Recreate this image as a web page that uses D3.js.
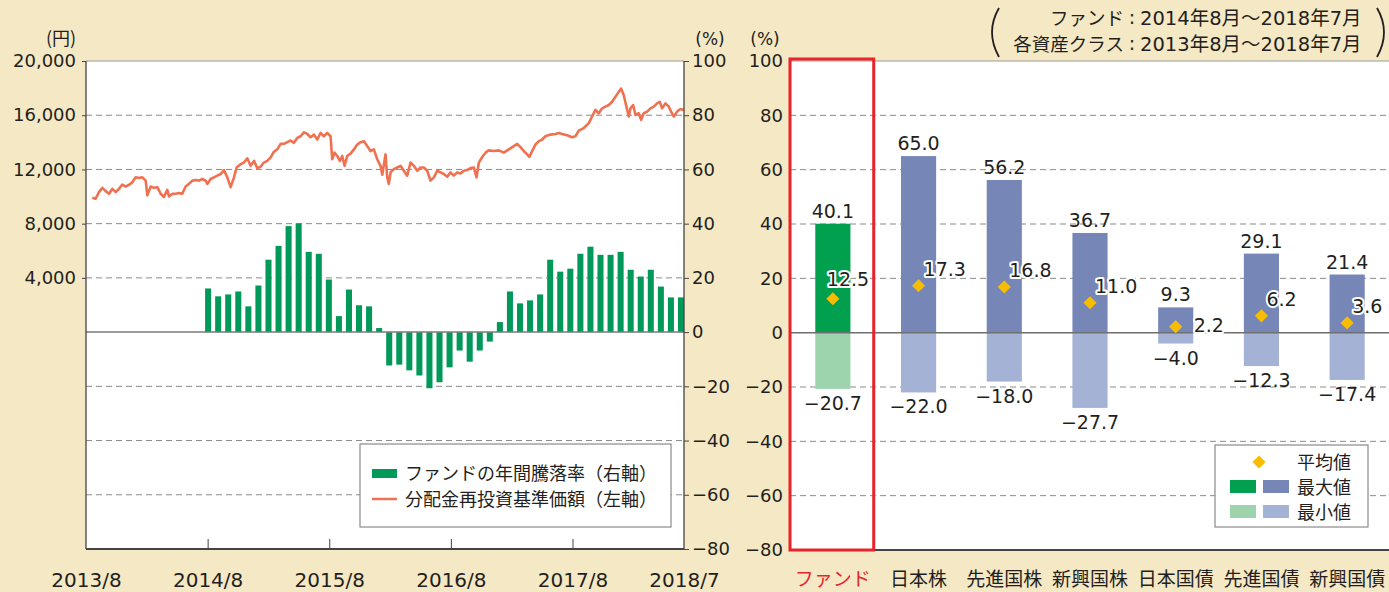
<!DOCTYPE html>
<html>
<head>
<meta charset="utf-8">
<script src="https://cdn.jsdelivr.net/npm/d3@7"></script>
<style>
  body { margin: 0; background: #f5e8c4; }
  text { font-family: "DejaVu Sans", "Noto Sans CJK JP", sans-serif; fill: #231f20; }
  .jp { font-family: "Noto Sans CJK JP", sans-serif; }
</style>
</head>
<body>
<script>
// ---- data ----
// price line: months since 2013/8 and NAV (yen)
var priceMonths = [0.62,0.95,1.28,1.61,1.94,2.27,2.60,2.93,3.25,3.58,3.91,4.24,4.57,4.90,5.23,5.56,5.89,6.05,6.38,6.71,
  7.04,7.37,7.69,8.02,8.19,8.52,8.85,9.17,9.50,9.83,10.16,10.49,10.82,11.15,11.47,11.80,11.97,12.30,12.62,12.95,
  13.28,13.61,13.94,14.27,14.60,14.86,15.25,15.58,15.91,16.24,16.57,16.90,17.23,17.55,17.88,18.21,18.54,18.87,19.20,19.53,
  19.86,20.18,20.51,20.84,21.17,21.50,21.83,22.16,22.49,22.82,23.14,23.47,23.80,24.13,24.29,24.52,24.79,25.05,25.28,25.51,
  25.77,26.10,26.43,26.76,27.09,27.42,27.75,28.07,28.40,28.73,29.06,29.23,29.55,29.72,29.88,30.05,30.37,30.70,31.03,31.36,
  31.69,32.02,32.35,32.68,33.01,33.33,33.66,33.99,34.32,34.65,34.98,35.31,35.64,35.96,36.29,36.62,36.95,37.28,37.61,37.94,
  38.27,38.53,38.76,39.09,39.42,39.74,40.24,40.73,41.22,41.72,42.21,42.54,42.87,43.19,43.52,43.75,44.02,44.35,44.68,45.00,
  45.33,45.83,46.32,46.65,46.98,47.47,47.96,48.29,48.62,49.11,49.61,49.93,50.26,50.59,50.92,51.25,51.58,51.91,52.24,52.56,
  52.79,53.06,53.32,53.55,53.72,53.98,54.21,54.54,54.77,55.03,55.36,55.69,56.02,56.35,56.61,56.84,57.17,57.50,57.73,58.00,
  58.32,58.65,58.98];
var priceValues = [9916,9843,10328,10643,10400,10207,10570,10328,10570,10885,10740,10861,11055,11419,11370,11419,11176,10085,10740,10643,
  10691,10207,9964,10497,10013,10207,10207,10255,10207,10740,10934,11176,11225,11176,11297,11176,10934,11297,11419,11540,
  11661,11952,11419,10691,11419,12146,12388,12509,12824,12267,12631,12097,12194,12509,12631,12873,13309,13479,13891,13891,
  14012,14134,13964,14327,14449,14740,14618,14376,14570,14206,14691,14449,14691,14449,12752,13237,12994,12631,12994,12267,
  12994,13164,13479,13843,14012,14085,13721,13358,13479,12752,12267,11612,13115,11418,10934,11782,12025,12146,12267,11903,
  11540,12509,12267,11903,12146,12146,11903,11176,11418,11903,11782,11661,11467,11782,11540,11782,11709,11903,11952,12097,
  12146,11418,12509,12921,13237,13406,13358,13406,13237,13479,13721,13891,13649,13358,13115,12921,13358,13843,14085,14206,
  14449,14570,14618,14691,14618,14521,14376,14449,14861,15055,15418,15903,16388,16145,16509,16630,16751,16994,17357,17721,
  17963,17479,16630,15903,16509,16751,16024,16145,15661,16145,16267,16509,16630,16873,16994,16509,16873,16630,16267,15903,
  16267,16461,16388];

// annual return (%) 2014/8 .. 2018/7
var returnValues = [16.1,13.2,13.9,15.0,9.5,17.2,26.7,31.8,39.1,40.1,29.6,28.9,19.4,5.9,15.7,9.9,9.5,1.5,
  -12.3,-12.0,-14.1,-16.0,-20.7,-18.5,-13.0,-6.8,-10.9,-6.8,-3.5,
  3.7,15.0,10.6,11.7,13.9,26.7,22.3,23.4,28.9,31.5,28.5,28.5,29.6,23.0,20.5,23.0,16.8,12.8,12.8];

var dateTickMonths = [0, 12, 24, 36, 48, 59];
var dateTickLabels = ["2013/8", "2014/8", "2015/8", "2016/8", "2017/8", "2018/7"];
var yenTicks = [4000, 8000, 12000, 16000, 20000];
var pctTicks = [-80, -60, -40, -20, 0, 20, 40, 60, 80, 100];

var classes = ["ファンド", "日本株", "先進国株", "新興国株", "日本国債", "先進国債", "新興国債"];
var maxValues = [40.1, 65.0, 56.2, 36.7, 9.3, 29.1, 21.4];
var minValues = [-20.7, -22.0, -18.0, -27.7, -4.0, -12.3, -17.4];
var avgValues = [12.5, 17.3, 16.8, 11.0, 2.2, 6.2, 3.6];

// ---- setup ----
var svgWidth = 1389, svgHeight = 592;
var svg = d3.select("body").append("svg")
  .attr("width", svgWidth).attr("height", svgHeight);
svg.append("rect").attr("width", svgWidth).attr("height", svgHeight).attr("fill", "#f5e8c4");

var green = "#00995a", greenMax = "#00a04e", greenMin = "#9dd3ad";
var blueMax = "#7686b7", blueMin = "#a4b2d5", gold = "#f8bd00", red = "#e8232b";
var gridColor = "#8a8a8a";

// ================= left chart =================
var L = { left: 86, right: 684, top: 61, bottom: 549 };
var xMonth = d3.scaleLinear().domain([0, 59]).range([L.left, L.right]);
var yPct = d3.scaleLinear().domain([-80, 100]).range([L.bottom, L.top]);
var yYen = d3.scaleLinear().domain([-16000, 20000]).range([L.bottom, L.top]);

var left = svg.append("g");
left.append("rect").attr("x", L.left).attr("y", L.top)
  .attr("width", L.right - L.left).attr("height", L.bottom - L.top).attr("fill", "#fff");

// dashed grid
left.selectAll(".grid").data(pctTicks.filter(function(v){ return v !== 0 && v !== 100 && v !== -80; }))
  .enter().append("line")
  .attr("x1", L.left).attr("x2", L.right)
  .attr("y1", function(d){ return yPct(d); }).attr("y2", function(d){ return yPct(d); })
  .attr("stroke", gridColor).attr("stroke-dasharray", "6,4");

// bars
var xBar = d3.scaleBand().domain(d3.range(returnValues.length))
  .range([xMonth(11.75), xMonth(59)]).paddingInner(0.4);
left.selectAll(".bar").data(returnValues).enter().append("rect")
  .attr("x", function(d, i){ return xBar(i); })
  .attr("width", xBar.bandwidth())
  .attr("y", function(d){ return yPct(Math.max(d, 0)); })
  .attr("height", function(d){ return Math.abs(yPct(d) - yPct(0)); })
  .attr("fill", green);

// zero line
left.append("line").attr("x1", L.left).attr("x2", L.right)
  .attr("y1", yPct(0)).attr("y2", yPct(0)).attr("stroke", "#7a7a7a").attr("stroke-width", 1.5);

// price line
var line = d3.line().x(function(d){ return xMonth(d[0]); }).y(function(d){ return yYen(d[1]); });
left.append("path").datum(d3.zip(priceMonths, priceValues))
  .attr("d", line).attr("fill", "none").attr("stroke", "#f07150")
  .attr("stroke-width", 2.6).attr("stroke-linejoin", "round");

// frame
left.append("line").attr("x1", L.left).attr("x2", L.right).attr("y1", L.top).attr("y2", L.top)
  .attr("stroke", "#9a9a9a").attr("stroke-width", 1.2);

// axes
var axisL = d3.axisLeft(yYen).tickValues(yenTicks).tickSize(4).tickPadding(6)
  .tickFormat(d3.format(","));
var gL = left.append("g").attr("transform", "translate(" + L.left + ",0)").call(axisL);
var axisR = d3.axisRight(yPct).tickValues(pctTicks).tickSize(5).tickPadding(3);
var gR = left.append("g").attr("transform", "translate(" + L.right + ",0)").call(axisR);
var axisB = d3.axisBottom(xMonth).tickValues(dateTickMonths).tickSize(-10).tickPadding(24)
  .tickFormat(function(d, i){ return dateTickLabels[i]; });
var gB = left.append("g").attr("transform", "translate(0," + L.bottom + ")").call(axisB);
gB.selectAll(".tick line").filter(function(d){ return d === 0 || d === 59; }).remove();

[gL, gR, gB].forEach(function(g){
  g.select(".domain").attr("stroke", "#444").attr("stroke-width", 1.3);
  g.selectAll(".tick line").attr("stroke", "#444");
  g.selectAll("text").attr("font-size", 18).attr("fill", "#231f20")
    .style("font-family", "'DejaVu Sans', sans-serif");
});
gB.selectAll("text").attr("font-size", 20);
gL.select(".domain").attr("d", "M0," + L.top + "V" + L.bottom);
gR.select(".domain").attr("d", "M0," + L.top + "V" + L.bottom);
gB.select(".domain").attr("d", "M" + L.left + ",0H" + L.right).attr("stroke-width", 1.8);

svg.append("text").attr("class", "jp").attr("x", 61).attr("y", 45)
  .attr("text-anchor", "middle").attr("font-size", 18).text("(円)");
svg.append("text").attr("x", 710).attr("y", 45)
  .attr("text-anchor", "middle").attr("font-size", 17).text("(%)");

// left legend
var lg = svg.append("g");
lg.append("rect").attr("x", 360).attr("y", 444).attr("width", 311).attr("height", 83)
  .attr("fill", "#fff").attr("stroke", "#8a8a8a").attr("stroke-width", 1.2);
lg.append("rect").attr("x", 372).attr("y", 469).attr("width", 25).attr("height", 9).attr("fill", green);
lg.append("line").attr("x1", 372).attr("x2", 397).attr("y1", 499).attr("y2", 499)
  .attr("stroke", "#f07150").attr("stroke-width", 2.5);
lg.append("text").attr("class", "jp").attr("x", 405).attr("y", 480).attr("font-size", 18)
  .text("ファンドの年間騰落率（右軸）");
lg.append("text").attr("class", "jp").attr("x", 405).attr("y", 506).attr("font-size", 18)
  .text("分配金再投資基準価額（左軸）");

// ================= right chart =================
var R = { left: 790, right: 1389, top: 61, bottom: 550 };
var xCat = d3.scaleBand().domain(classes).range([R.left, R.left + 600]);
var yR = d3.scaleLinear().domain([-80, 100]).range([R.bottom, R.top]);
var barW = xCat.bandwidth() * 0.41;
function cx(c){ return xCat(c) + xCat.bandwidth() / 2; }

var right = svg.append("g");
right.append("rect").attr("x", R.left).attr("y", R.top)
  .attr("width", R.right - R.left).attr("height", R.bottom - R.top).attr("fill", "#fff");
right.selectAll(".grid").data(pctTicks.filter(function(v){ return v !== 0 && v !== 100 && v !== -80; }))
  .enter().append("line")
  .attr("x1", R.left).attr("x2", R.right)
  .attr("y1", function(d){ return yR(d); }).attr("y2", function(d){ return yR(d); })
  .attr("stroke", gridColor).attr("stroke-dasharray", "6,4");

var rows = classes.map(function(c, i){
  return { c: c, max: maxValues[i], min: minValues[i], avg: avgValues[i], fund: i === 0 };
});

right.selectAll(".maxbar").data(rows).enter().append("rect")
  .attr("x", function(d){ return cx(d.c) - barW / 2; }).attr("width", barW)
  .attr("y", function(d){ return yR(d.max); })
  .attr("height", function(d){ return yR(0) - yR(d.max); })
  .attr("fill", function(d){ return d.fund ? greenMax : blueMax; });
right.selectAll(".minbar").data(rows).enter().append("rect")
  .attr("x", function(d){ return cx(d.c) - barW / 2; }).attr("width", barW)
  .attr("y", yR(0))
  .attr("height", function(d){ return yR(d.min) - yR(0); })
  .attr("fill", function(d){ return d.fund ? greenMin : blueMin; });

right.append("line").attr("x1", R.left).attr("x2", R.right)
  .attr("y1", yR(0)).attr("y2", yR(0)).attr("stroke", "#6f6f6f").attr("stroke-width", 1.5);

// value labels
right.selectAll(".maxlab").data(rows).enter().append("text")
  .attr("x", function(d){ return cx(d.c); }).attr("y", function(d){ return yR(d.max) - 6; })
  .attr("text-anchor", "middle").attr("font-size", 19)
  .text(function(d){ return d.max.toFixed(1); });
right.selectAll(".minlab").data(rows).enter().append("text")
  .attr("x", function(d){ return cx(d.c); }).attr("y", function(d){ return yR(d.min) + 21; })
  .attr("text-anchor", "middle").attr("font-size", 19)
  .text(function(d){ return "\u2212" + Math.abs(d.min).toFixed(1); });

// averages
var diamond = d3.symbol().type(d3.symbolDiamond2).size(110);
right.selectAll(".avg").data(rows).enter().append("path")
  .attr("d", diamond)
  .attr("transform", function(d){ return "translate(" + cx(d.c) + "," + yR(d.avg) + ")"; })
  .attr("fill", gold);
// small bars put the label beside the diamond, others put it above-right
right.selectAll(".avglab").data(rows).enter().append("text")
  .attr("x", function(d){ return cx(d.c) + (d.max < 15 ? 18 : d.fund ? -6 : 5); })
  .attr("y", function(d){ return yR(d.avg) + (d.max < 15 ? 5 : d.fund ? -13 : -10); })
  .attr("font-size", 19)
  .attr("stroke", "#fff").attr("stroke-width", 4).attr("paint-order", "stroke")
  .attr("stroke-linejoin", "round")
  .text(function(d){ return d.avg.toFixed(1); });

// frame & axis
right.append("line").attr("x1", R.left).attr("x2", R.right).attr("y1", R.top).attr("y2", R.top)
  .attr("stroke", "#9a9a9a").attr("stroke-width", 1.2);
right.append("line").attr("x1", R.left).attr("x2", R.right).attr("y1", R.bottom).attr("y2", R.bottom)
  .attr("stroke", "#444").attr("stroke-width", 1.8);
var axisRL = d3.axisLeft(yR).tickValues(pctTicks).tickSize(0).tickPadding(7);
var gRL = right.append("g").attr("transform", "translate(" + R.left + ",0)").call(axisRL);
gRL.select(".domain").remove();
gRL.selectAll("text").attr("font-size", 18).attr("fill", "#231f20");
svg.append("text").attr("x", 765).attr("y", 45)
  .attr("text-anchor", "middle").attr("font-size", 17).text("(%)");

// red highlight box
right.append("rect")
  .attr("x", xCat(classes[0])).attr("y", R.top - 2)
  .attr("width", xCat.bandwidth() - 2).attr("height", R.bottom - R.top + 2)
  .attr("fill", "none").attr("stroke", red).attr("stroke-width", 3);

// category labels
right.selectAll(".cat").data(classes).enter().append("text")
  .attr("class", "jp")
  .attr("x", function(d){ return cx(d); }).attr("y", 586)
  .attr("text-anchor", "middle").attr("font-size", 19)
  .style("fill", function(d, i){ return i === 0 ? red : "#231f20"; })
  .text(function(d){ return d; });

// right legend
var rg = svg.append("g");
rg.append("rect").attr("x", 1215).attr("y", 445).attr("width", 153).attr("height", 82)
  .attr("fill", "#fff").attr("stroke", "#8a8a8a").attr("stroke-width", 1.2);
rg.append("path").attr("d", diamond).attr("transform", "translate(1259,462)").attr("fill", gold);
rg.append("rect").attr("x", 1230).attr("y", 480).attr("width", 26).attr("height", 13).attr("fill", greenMax);
rg.append("rect").attr("x", 1263).attr("y", 480).attr("width", 26).attr("height", 13).attr("fill", blueMax);
rg.append("rect").attr("x", 1230).attr("y", 505).attr("width", 26).attr("height", 13).attr("fill", greenMin);
rg.append("rect").attr("x", 1263).attr("y", 505).attr("width", 26).attr("height", 13).attr("fill", blueMin);
["平均値", "最大値", "最小値"].forEach(function(t, i){
  rg.append("text").attr("class", "jp").attr("x", 1297).attr("y", 469 + i * 25)
    .attr("font-size", 18).text(t);
});

// period note
var note = svg.append("g");
note.append("text").attr("class", "jp").attr("x", 1124).attr("y", 25).attr("text-anchor", "end")
  .attr("font-size", 18.5).text("ファンド");
note.append("text").attr("class", "jp").attr("x", 1124).attr("y", 51).attr("text-anchor", "end")
  .attr("font-size", 18.5).text("各資産クラス");
note.append("text").attr("x", 1132).attr("y", 24).attr("text-anchor", "middle").attr("font-size", 19).text(":");
note.append("text").attr("x", 1132).attr("y", 50).attr("text-anchor", "middle").attr("font-size", 19).text(":");
note.append("text").attr("x", 1140).attr("y", 25).attr("font-size", 19.5).text("2014年8月～2018年7月");
note.append("text").attr("x", 1140).attr("y", 51).attr("font-size", 19.5).text("2013年8月～2018年7月");
note.append("path").attr("d", "M999,8 Q985,32 999,57").attr("fill", "none")
  .attr("stroke", "#231f20").attr("stroke-width", 1.8);
note.append("path").attr("d", "M1377,8 Q1391,32 1377,57").attr("fill", "none")
  .attr("stroke", "#231f20").attr("stroke-width", 1.8);
</script>
</body>
</html>
